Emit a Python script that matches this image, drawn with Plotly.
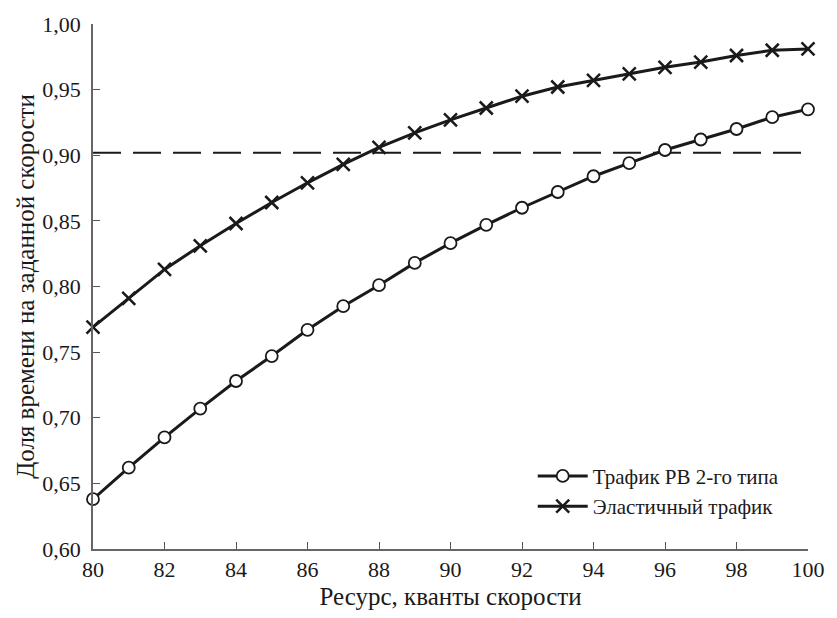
import plotly.graph_objects as go

resource = list(range(80, 101))
rv_traffic = [0.638, 0.662, 0.685, 0.707, 0.728, 0.747, 0.767, 0.785, 0.801, 0.818,
              0.833, 0.847, 0.860, 0.872, 0.884, 0.894, 0.904, 0.912, 0.920, 0.929, 0.935]
elastic_traffic = [0.769, 0.791, 0.813, 0.831, 0.848, 0.864, 0.879, 0.893, 0.906, 0.917,
                   0.927, 0.936, 0.945, 0.952, 0.957, 0.962, 0.967, 0.971, 0.976, 0.980, 0.981]
threshold = 0.902
y_ticks = [0.60, 0.65, 0.70, 0.75, 0.80, 0.85, 0.90, 0.95, 1.00]
x_ticks = list(range(80, 101, 2))

FONT = "'Liberation Serif', 'Times New Roman', Times, serif"
INK = "#1a1a1a"

fig = go.Figure()
fig.add_trace(go.Scatter(
    x=[resource[0], resource[-1]], y=[threshold, threshold], mode="lines",
    line=dict(color=INK, width=2, dash="28px,12px"), showlegend=False, hoverinfo="skip"))
fig.add_trace(go.Scatter(
    x=resource, y=rv_traffic, mode="lines+markers", name="Трафик РВ 2-го типа",
    line=dict(color=INK, width=3),
    marker=dict(symbol="circle", size=12, color="white", line=dict(color=INK, width=1.8)),
    cliponaxis=False))
fig.add_trace(go.Scatter(
    x=resource, y=elastic_traffic, mode="lines+markers", name="Эластичный трафик",
    line=dict(color=INK, width=3),
    marker=dict(symbol="x-thin", size=13, color=INK, line=dict(color=INK, width=2.5)),
    cliponaxis=False))

fig.update_layout(
    width=837, height=618,
    margin=dict(l=93, r=18, t=16, b=66),
    paper_bgcolor="white", plot_bgcolor="white",
    separators=", ",
    font=dict(family=FONT, size=20, color=INK),
    showlegend=True,
    legend=dict(x=0.615, y=0.11, xanchor="left", yanchor="middle",
                bgcolor="rgba(0,0,0,0)", font=dict(family=FONT, size=21, color=INK),
                itemwidth=50, tracegroupgap=0),
)
fig.update_xaxes(
    range=[80, 100], tickvals=x_ticks, ticks="inside", ticklen=7, tickcolor="#555",
    showline=True, linecolor="#666", linewidth=1.5, showgrid=False, zeroline=False,
    tickfont=dict(family=FONT, size=22, color=INK),
    title=dict(text="Ресурс, кванты скорости", font=dict(family=FONT, size=25, color=INK), standoff=6))
fig.update_yaxes(
    range=[0.6, 1.0], tickvals=y_ticks, tickformat=".2f", ticks="inside", ticklen=7,
    tickcolor="#555", showline=True, linecolor="#666", linewidth=1.5, showgrid=False,
    zeroline=False, ticklabelstandoff=6,
    tickfont=dict(family=FONT, size=22, color=INK),
    title=dict(text="Доля времени на заданной скорости", font=dict(family=FONT, size=25, color=INK), standoff=1))

fig.write_html("out.html")
